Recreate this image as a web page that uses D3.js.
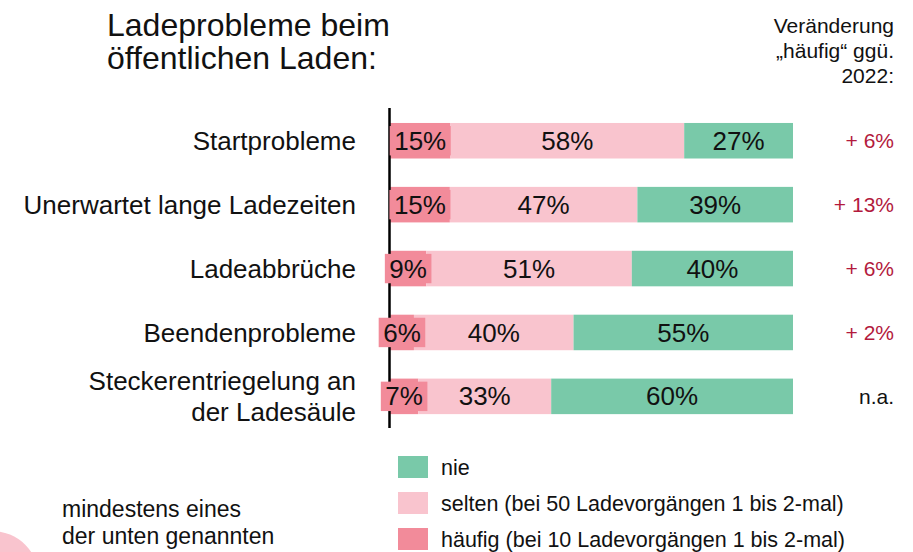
<!DOCTYPE html>
<html><head><meta charset="utf-8">
<script src="https://cdn.jsdelivr.net/npm/d3@7"></script>
<style>
html,body{margin:0;padding:0;background:#fff;}
svg{display:block;font-family:"Liberation Sans",Arial,sans-serif;}
</style></head>
<body>
<svg id="c" width="913" height="552"></svg>
<script>
// ---- data ----
const categories = ["Startprobleme","Unerwartet lange Ladezeiten","Ladeabbrüche","Beendenprobleme","Steckerentriegelung an der Ladesäule"];
const categoryLines = [["Startprobleme"],["Unerwartet lange Ladezeiten"],["Ladeabbrüche"],["Beendenprobleme"],["Steckerentriegelung an","der Ladesäule"]];
const haeufig = [15,15,9,6,7];
const selten  = [58,47,51,40,33];
const nie     = [27,39,40,55,60];
const changes = ["+ 6%","+ 13%","+ 6%","+ 2%","n.a."];
const seriesKeys = ["haeufig","selten","nie"];
const legendLabels = ["nie","selten (bei 50 Ladevorgängen 1 bis 2-mal)","häufig (bei 10 Ladevorgängen 1 bis 2-mal)"];
const titleLines = ["Ladeprobleme beim","öffentlichen Laden:"];
const headerLines = ["Veränderung","„häufig“ ggü.","2022:"];
const noteLines = ["mindestens eines","der unten genannten"];

// ---- styles ----
const colors = {haeufig:"#f28b9a", selten:"#f9c4ce", nie:"#79c9a9"};
const svg = d3.select("#c");

const rows = categories.map((c,i)=>({cat:c, haeufig:haeufig[i], selten:selten[i], nie:nie[i]}));
// normalise to 100
const normRows = rows.map(r=>{
  const s = r.haeufig + r.selten + r.nie;
  return {cat:r.cat, haeufig:r.haeufig/s*100, selten:r.selten/s*100, nie:r.nie/s*100};
});
const stack = d3.stack().keys(seriesKeys)(normRows);

const x = d3.scaleLinear().domain([0,100]).range([390,793]);
const y = d3.scaleBand().domain(categories).range([94.6,442.5]).paddingInner(0.444).paddingOuter(0.444);

// decorative pink shape bottom-left
svg.append("circle").attr("cx",-8).attr("cy",578).attr("r",47).attr("fill","#f9c4ce");

// title
svg.append("g").selectAll("text").data(titleLines).join("text")
  .attr("x",107).attr("y",(d,i)=>36+i*33).attr("font-size",32).attr("fill","#111").text(d=>d);

// header right
svg.append("g").selectAll("text").data(headerLines).join("text")
  .attr("x",894).attr("y",(d,i)=>33+i*25).attr("font-size",21).attr("text-anchor","end").attr("fill","#111").text(d=>d);

// bars
const gBars = svg.append("g");
stack.forEach(layer=>{
  gBars.append("g").attr("fill",colors[layer.key]).selectAll("rect").data(layer).join("rect")
    .attr("x",d=>x(d[0])).attr("width",d=>x(d[1])-x(d[0]))
    .attr("y",d=>y(d.data.cat)).attr("height",y.bandwidth());
});

// axis line
svg.append("line").attr("x1",x(0)-0.5).attr("x2",x(0)-0.5).attr("y1",108).attr("y2",428)
  .attr("stroke","#000").attr("stroke-width",2.5);

// value labels
const labelSize = 26;
stack.forEach(layer=>{
  const orig = layer.key==="haeufig"?haeufig:layer.key==="selten"?selten:nie;
  const g = svg.append("g");
  layer.forEach((d,i)=>{
    const cx = (x(d[0])+x(d[1]))/2, cy = y(d.data.cat)+y.bandwidth()/2;
    const t = g.append("text").attr("x",cx).attr("y",cy).attr("dy","0.35em")
      .attr("text-anchor","middle").attr("font-size",labelSize).attr("fill","#111")
      .text(orig[i]+"%");
    if(layer.key==="haeufig"){
      const w = t.node().getComputedTextLength()+9;
      if(w > x(d[1])-x(d[0])){
        g.insert("rect","text").attr("x",cx-w/2).attr("y",cy-14.7).attr("width",w).attr("height",29.4)
          .attr("fill",colors.haeufig);
      }
    }
  });
});

// category labels
const gCat = svg.append("g");
categoryLines.forEach((lines,i)=>{
  const cy = y(categories[i])+y.bandwidth()/2;
  const n = lines.length;
  lines.forEach((l,j)=>{
    gCat.append("text").attr("x",356).attr("y",cy+(j-(n-1)/2)*31).attr("dy","0.35em")
      .attr("text-anchor","end").attr("font-size",26).attr("fill","#111").text(l);
  });
});

// change values
svg.append("g").selectAll("text").data(changes).join("text")
  .attr("x",894).attr("y",(d,i)=>y(categories[i])+y.bandwidth()/2).attr("dy","0.35em")
  .attr("text-anchor","end").attr("font-size",21)
  .attr("fill",d=>d==="n.a."?"#111":"#b31a3d").text(d=>d);

// legend
const legendColors = [colors.nie, colors.selten, colors.haeufig];
const lg = svg.append("g");
legendLabels.forEach((l,i)=>{
  lg.append("rect").attr("x",398).attr("y",456+i*36).attr("width",30).attr("height",22).attr("fill",legendColors[i]);
  lg.append("text").attr("x",441).attr("y",467+i*36).attr("dy","0.35em").attr("font-size",21.5).attr("fill","#111").text(l);
});

// note
svg.append("g").selectAll("text").data(noteLines).join("text")
  .attr("x",62).attr("y",(d,i)=>517+i*26.5).attr("font-size",23).attr("fill","#111").text(d=>d);
</script>
</body></html>
